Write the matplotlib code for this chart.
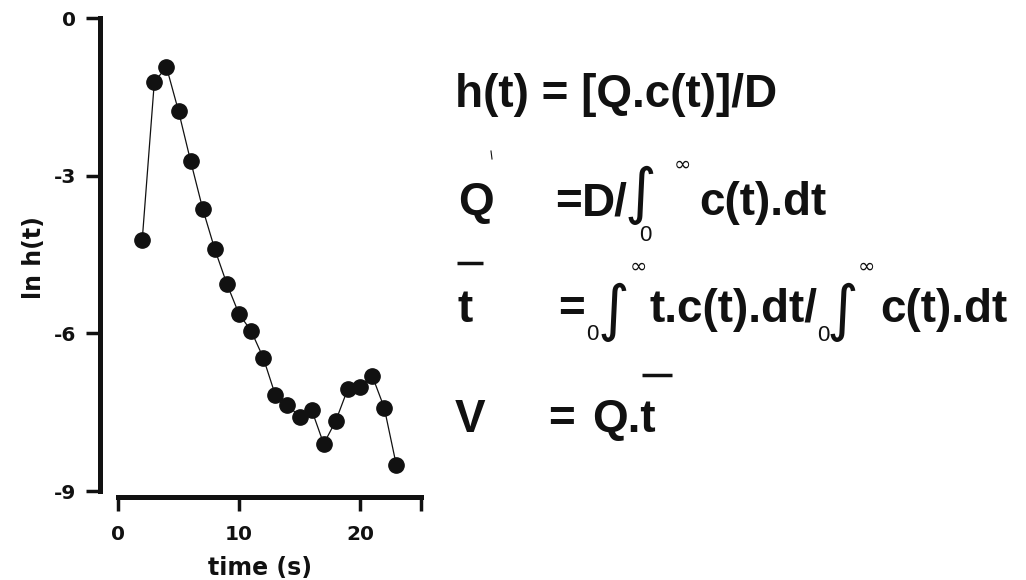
import matplotlib
matplotlib.use("Agg")
import matplotlib.pyplot as plt
from matplotlib.lines import Line2D
from matplotlib.ticker import FixedLocator, FixedFormatter

# --- данни: ln h(t) по време ---
time_s = [2, 3, 4, 5, 6, 7, 8, 9, 10, 11, 12, 13, 14, 15, 16, 17, 18, 19, 20, 21, 22, 23]
ln_h = [-4.22, -1.22, -0.93, -1.77, -2.72, -3.63, -4.40, -5.06, -5.63, -5.95, -6.46,
        -7.17, -7.36, -7.58, -7.45, -8.10, -7.66, -7.05, -7.01, -6.80, -7.41, -8.50]

x_ticks = [0, 10, 20, 25]
x_tick_labels = ["0", "10", "20", ""]
y_ticks = [0, -3, -6, -9]
y_tick_labels = ["0", "-3", "-6", "-9"]

W, H = 1026, 580
INK = "#111111"
plt.rcParams["axes.unicode_minus"] = False

fig = plt.figure(figsize=(W / 100, H / 100), dpi=100)
ax = fig.add_axes([100 / W, 1 - 497 / H, 320.5 / W, 479 / H])

ax.plot(time_s, ln_h, color=INK, lw=0.9, marker="o", ms=11,
        mfc=INK, mec=INK, zorder=3)

ax.set_xlim(-1.49, 25)
ax.set_ylim(-9.11, 0)
for side in ("top", "right"):
    ax.spines[side].set_visible(False)
for side in ("left", "bottom"):
    ax.spines[side].set_linewidth(3.6)
    ax.spines[side].set_color(INK)
ax.spines["left"].set_bounds(-9, 0)
ax.spines["bottom"].set_bounds(0, 25)

ax.xaxis.set_major_locator(FixedLocator(x_ticks))
ax.xaxis.set_major_formatter(FixedFormatter(x_tick_labels))
ax.yaxis.set_major_locator(FixedLocator(y_ticks))
ax.yaxis.set_major_formatter(FixedFormatter(y_tick_labels))
ax.tick_params(direction="out", length=10, width=2.5, color=INK,
               labelsize=14.5, labelcolor=INK)
ax.tick_params(axis="y", pad=7)
ax.tick_params(axis="x", pad=10)
for lab in ax.get_xticklabels() + ax.get_yticklabels():
    lab.set_fontweight("bold")
    lab.set_fontfamily("DejaVu Sans")

ax.set_xlabel("time (s)", fontsize=17, fontweight="bold", family="DejaVu Sans",
              color=INK, labelpad=9)
ax.set_ylabel("ln h(t)", fontsize=17, fontweight="bold", family="DejaVu Sans",
              color=INK, labelpad=6)

# --- формули отдясно ---
EQ = ["Liberation Sans Narrow", "Liberation Sans", "DejaVu Sans"]


def put(x, y, s, size=33, family=EQ, weight="bold"):
    fig.text(x / W, 1 - y / H, s, fontsize=size, family=family,
             fontweight=weight, color=INK, va="baseline", ha="left")


def bar(x0, x1, y, lw=2.5):
    fig.add_artist(Line2D([x0 / W, x1 / W], [1 - y / H, 1 - y / H],
                          transform=fig.transFigure, color=INK, lw=lw,
                          solid_capstyle="butt"))


def integral(x, y, lo_x, lo_y, inf_x, inf_y):
    put(x, y, "\u222b", size=44, family=["DejaVu Sans"], weight="normal")
    put(lo_x, lo_y, "0", size=16, weight="normal")
    put(inf_x, inf_y, "\u221e", size=15, family=["DejaVu Sans"], weight="normal")


put(455, 107, "h(t) = [Q.c(t)]/D")

put(458, 215, "Q")
fig.add_artist(Line2D([491 / W, 492 / W], [1 - 151 / H, 1 - 159 / H],
                      transform=fig.transFigure, color=INK, lw=0.8))
put(555, 215, "=")
put(582, 215, "D/")
integral(625, 212, 639, 241, 674, 171)
put(699, 215, "c(t).dt")

put(458, 322, "t")
bar(457, 483, 263)
put(558, 322, "=")
integral(598, 329, 586, 340, 630, 273)
put(650, 322, "t.c(t).dt/")
integral(827, 329, 817, 341, 858, 273)
put(880, 322, "c(t).dt")

put(455, 432, "V")
put(548, 432, "=")
put(592, 432, "Q.t")
bar(642, 672, 375)

fig.savefig("out.png", dpi=100)
